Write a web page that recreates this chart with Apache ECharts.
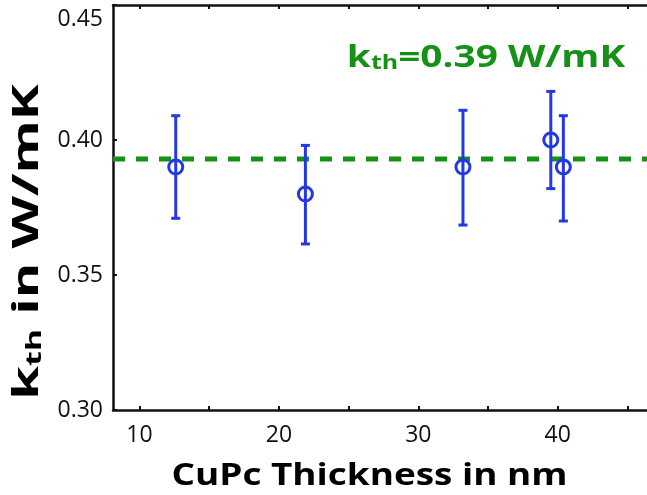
<!DOCTYPE html>
<html>
<head>
<meta charset="utf-8">
<script src="https://cdn.jsdelivr.net/npm/echarts@6/dist/echarts.min.js"></script>
<style>
  html, body { margin: 0; padding: 0; background: #fff; }
  #chart { width: 647px; height: 495px; }
</style>
</head>
<body>
<div id="chart"></div>
<script>
// Thermal conductivity of CuPc films vs. layer thickness
const thickness = [12.6, 21.9, 33.2, 39.5, 40.4];      // nm
const kValues   = [0.390, 0.380, 0.390, 0.400, 0.390]; // W/mK
const kUpper    = [0.409, 0.398, 0.411, 0.418, 0.409];
const kLower    = [0.371, 0.3615, 0.3685, 0.382, 0.370];
const kMean     = 0.393;                               // fitted average
const xTickValues  = [10, 15, 20, 25, 30, 35, 40, 45];
const xLabelValues = [10, 20, 30, 40];
const X_MIN = 8.1, X_MAX = 46.4;

const BLUE = '#2338e6';
const GREEN = '#159115';
const FONT = '"Open Sans", "DejaVu Sans", sans-serif';

const points = thickness.map((x, i) => [x, kValues[i]]);
const bars = thickness.map((x, i) => [x, kLower[i], kUpper[i]]);
const meanLine = [[X_MIN, kMean], [X_MAX, kMean]];

function richBold(size, subSize, color, subPad) {
  return {
    k:   { fontFamily: FONT, fontSize: size, fontWeight: 'bold', fill: color },
    sub: { fontFamily: FONT, fontSize: subSize, fontWeight: 'bold', fill: color, verticalAlign: 'bottom', padding: [subPad, 0, 0, 0] },
    r:   { fontFamily: FONT, fontSize: size, fontWeight: 'bold', fill: color }
  };
}

const chart = echarts.init(document.getElementById('chart'), null, { renderer: 'canvas' });

chart.setOption({
  animation: false,
  backgroundColor: '#fff',
  grid: { left: 113, right: 0, top: 5, bottom: 85 },
  xAxis: [{
    type: 'value',
    min: X_MIN,
    max: X_MAX,
    splitLine: { show: false },
    axisLine: { lineStyle: { color: '#111', width: 2.5 } },
    axisTick: { inside: true, length: 4, customValues: xTickValues, lineStyle: { color: '#111', width: 2 } },
    axisLabel: { customValues: xLabelValues, fontFamily: FONT, fontSize: 23, color: '#111', margin: 14 }
  }, {
    type: 'value',
    position: 'top',
    min: X_MIN,
    max: X_MAX,
    splitLine: { show: false },
    axisLine: { lineStyle: { color: '#111', width: 2.5 } },
    axisTick: { inside: true, length: 4, customValues: xTickValues, lineStyle: { color: '#111', width: 2 } },
    axisLabel: { show: false }
  }],
  yAxis: {
    type: 'value',
    min: 0.30,
    max: 0.45,
    interval: 0.05,
    splitLine: { show: false },
    axisLine: { show: true, lineStyle: { color: '#111', width: 2.5 } },
    axisTick: { show: true, inside: true, length: 4, lineStyle: { color: '#111', width: 2 } },
    axisLabel: {
      fontFamily: FONT, fontSize: 23, color: '#111', margin: 10,
      formatter: v => (Math.abs(v - 0.45) < 1e-9 ? '{top|' + v.toFixed(2) + '}' : v.toFixed(2)),
      rich: { top: { fontFamily: FONT, fontSize: 23, color: '#111', padding: [3, 0, 0, 0] } },
      verticalAlignMaxLabel: 'top'
    }
  },
  graphic: [{
    // x-axis title
    type: 'text',
    x: 369.5,
    y: 476,
    scaleX: 1.19,
    style: {
      text: 'CuPc Thickness in nm',
      fontFamily: FONT, fontSize: 31, fontWeight: 'bold', fill: '#000',
      align: 'center', verticalAlign: 'middle'
    }
  }, {
    // y-axis title, reading bottom to top
    type: 'text',
    x: 28,
    y: 242,
    rotation: Math.PI / 2,
    scaleX: 1.55,
    style: {
      text: '{k|k}{sub|th}{r| in W/mK}',
      rich: richBold(35, 22, '#000', 12),
      align: 'center', verticalAlign: 'middle'
    }
  }, {
    // value of the mean conductivity
    type: 'text',
    x: 486,
    y: 58,
    scaleX: 1.25,
    style: {
      text: '{k|k}{sub|th}{r|=' + kMean.toFixed(2) + ' W/mK}',
      rich: richBold(31, 20, GREEN, 10),
      align: 'center', verticalAlign: 'middle'
    }
  }],
  series: [{
    type: 'line',
    data: meanLine,
    symbol: 'none',
    silent: true,
    lineStyle: { color: GREEN, width: 5, type: [12, 11] },
    z: 2
  }, {
    type: 'custom',
    data: bars,
    renderItem: function (params, api) {
      const x = api.value(0);
      const lo = api.coord([x, api.value(1)]);
      const hi = api.coord([x, api.value(2)]);
      const cap = 4.5;
      const style = { stroke: BLUE, lineWidth: 3 };
      return {
        type: 'group',
        children: [
          { type: 'line', shape: { x1: lo[0], y1: lo[1], x2: hi[0], y2: hi[1] }, style: style },
          { type: 'line', shape: { x1: lo[0] - cap, y1: lo[1], x2: lo[0] + cap, y2: lo[1] }, style: style },
          { type: 'line', shape: { x1: hi[0] - cap, y1: hi[1], x2: hi[0] + cap, y2: hi[1] }, style: style }
        ]
      };
    },
    z: 3
  }, {
    type: 'scatter',
    data: points,
    symbol: 'circle',
    symbolSize: 14,
    itemStyle: { color: 'rgba(0,0,0,0)', borderColor: BLUE, borderWidth: 3, opacity: 1 },
    z: 4
  }]
});
</script>
</body>
</html>
